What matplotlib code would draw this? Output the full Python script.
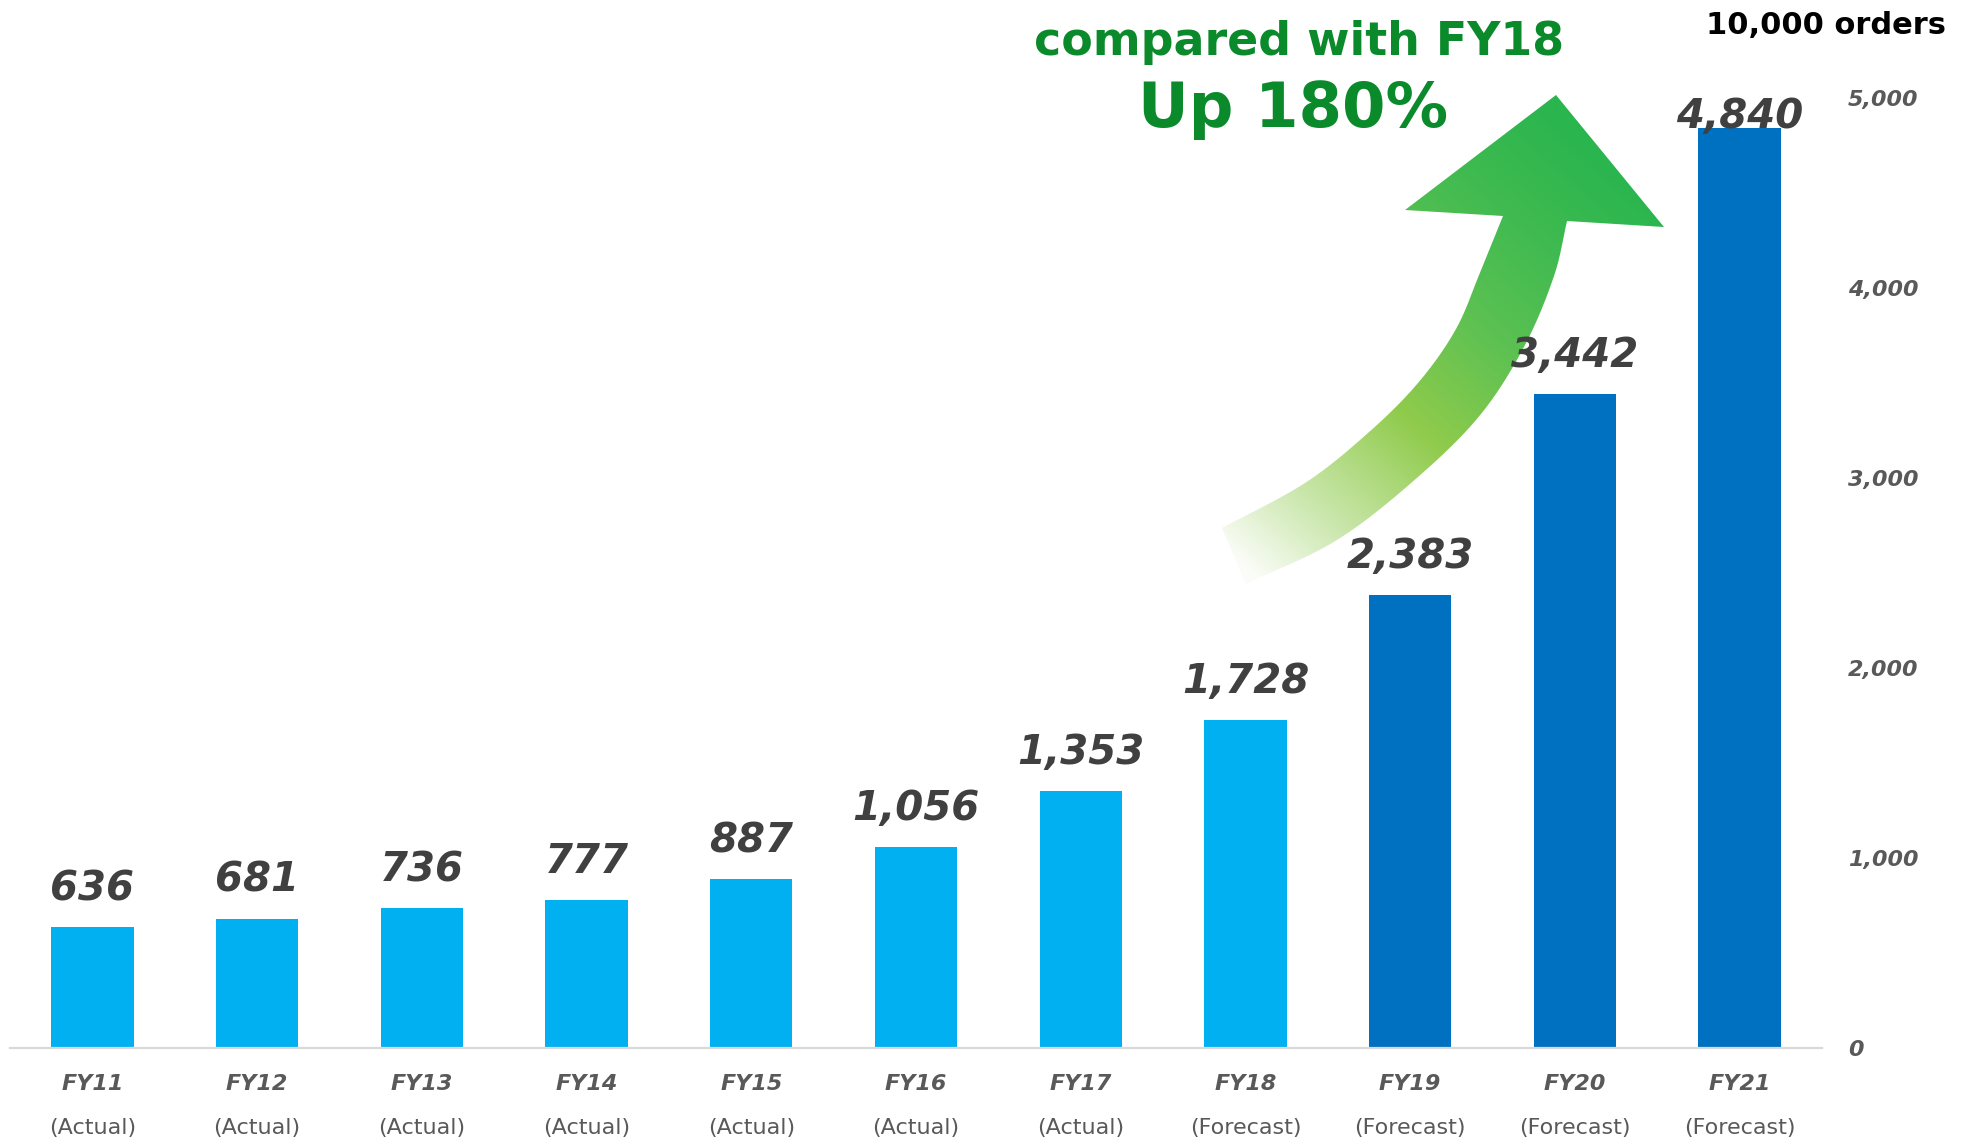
import numpy as np
import matplotlib
matplotlib.use("Agg")
import matplotlib.pyplot as plt
from matplotlib.path import Path
from matplotlib.patches import PathPatch
from matplotlib.colors import LinearSegmentedColormap

# ---------------- data ----------------
years = ["FY11", "FY12", "FY13", "FY14", "FY15", "FY16", "FY17", "FY18", "FY19", "FY20", "FY21"]
status = ["(Actual)"] * 7 + ["(Forecast)"] * 4
orders = [636, 681, 736, 777, 887, 1056, 1353, 1728, 2383, 3442, 4840]
dark_from = 8  # FY19 onwards drawn darker
y_ticks = [0, 1000, 2000, 3000, 4000, 5000]
unit_label = "10,000 orders"
headline1 = "compared with FY18"
headline2 = "Up 180%"

LIGHT = "#00B0F0"
DARK = "#0070C0"
LABEL_C = "#404040"
TICK_C = "#595959"
GREEN_TXT = "#0B8A2B"

W, H = 1968, 1144
fig = plt.figure(figsize=(W / 100, H / 100), dpi=100)
fig.patch.set_facecolor("white")

# ---------------- decorative arrow (figure pixel space) ----------------
bg = fig.add_axes([0, 0, 1, 1], zorder=0)
bg.set_xlim(0, W)
bg.set_ylim(H, 0)
bg.axis("off")


def catmull(pts, n=20):
    pts = np.asarray(pts, float)
    P = np.vstack([2 * pts[0] - pts[1], pts, 2 * pts[-1] - pts[-2]])
    out = []
    for i in range(1, len(P) - 2):
        p0, p1, p2, p3 = P[i - 1], P[i], P[i + 1], P[i + 2]
        for t in np.linspace(0, 1, n, endpoint=False):
            t2, t3 = t * t, t * t * t
            out.append(0.5 * ((2 * p1) + (-p0 + p2) * t + (2 * p0 - 5 * p1 + 4 * p2 - p3) * t2
                              + (-p0 + 3 * p1 - 3 * p2 + p3) * t3))
    out.append(pts[-1])
    return np.array(out)


left_edge = [(1503, 216), (1481, 270), (1456, 329), (1418, 383),
             (1368, 433), (1305, 483), (1222, 528)]
right_edge = [(1246, 584), (1337, 540), (1418, 477), (1481, 414),
              (1525, 345), (1554, 276), (1567, 221)]
head = [(1664, 227), (1556, 95), (1405, 210)]

outline = np.vstack([catmull(left_edge), catmull(right_edge), np.array(head), [left_edge[0]]])
path = Path(outline, closed=False)
patch = PathPatch(path, transform=bg.transData, facecolor="none", edgecolor="none")
bg.add_patch(patch)

gx0, gx1, gy0, gy1 = 1200, 1690, 80, 600
xs = np.linspace(gx0, gx1, 500)
ys = np.linspace(gy0, gy1, 520)
XX, YY = np.meshgrid(xs, ys)
d = np.array([365.0, -410.0])
tt = ((XX - 1235) * d[0] + (YY - 560) * d[1]) / (d @ d)
tt = np.clip(tt, 0, 1)
cmap = LinearSegmentedColormap.from_list(
    "arrow",
    [(0.0, "#FBFDF8"), (0.15, "#CFE9B4"), (0.40, "#90CB4C"), (0.62, "#5CC152"),
     (0.82, "#3EBA50"), (1.0, "#2AB54F")])
im = bg.imshow(cmap(tt), extent=(gx0, gx1, gy1, gy0), origin="upper",
               aspect="auto", interpolation="bilinear", zorder=1)
im.set_clip_path(patch)
bg.set_xlim(0, W)
bg.set_ylim(H, 0)

# ---------------- main bar chart ----------------
ax = fig.add_axes([10 / W, 96 / H, (1822 - 10) / W, 950 / H], zorder=1)
ax.patch.set_visible(False)
x = np.arange(len(years))
colors = [DARK if i >= dark_from else LIGHT for i in range(len(years))]
ax.bar(x, orders, width=0.5, color=colors, zorder=2)
ax.set_xlim(-0.5, len(years) - 0.5)
ax.set_ylim(0, 5000)

for s in ["top", "left", "right"]:
    ax.spines[s].set_visible(False)
ax.spines["bottom"].set_color("#D9D9D9")
ax.spines["bottom"].set_linewidth(1.6)

ax.yaxis.tick_right()
ax.set_yticks(y_ticks)
ax.set_yticklabels([f"{v:,}" for v in y_ticks])
ax.tick_params(axis="y", length=0, pad=18.5, labelsize=16, labelcolor=TICK_C)
for lab in ax.get_yticklabels():
    lab.set_fontweight("bold")
    lab.set_fontstyle("italic")
    lab.set_horizontalalignment("left")

ax.set_xticks(x)
ax.set_xticklabels([""] * len(x))
ax.tick_params(axis="x", length=0)

# value labels
ax_h_px = ax.get_position().height * H
px_per_unit = ax_h_px / (ax.get_ylim()[1] - ax.get_ylim()[0])
for i, v in enumerate(orders):
    off_px = min(27, (ax.get_ylim()[1] - v) * px_per_unit - 31)
    off_px = max(off_px, 0)
    ax.annotate(f"{v:,}", xy=(i, v), xytext=(0, off_px * 0.72), textcoords="offset points",
                ha="center", va="baseline", fontsize=29, fontweight="bold",
                fontstyle="italic", color=LABEL_C, zorder=3)

# category labels
for i in range(len(years)):
    ax.annotate(years[i], xy=(i, 0), xycoords=("data", "axes fraction"),
                xytext=(0, -36 * 0.72), textcoords="offset points",
                ha="center", va="center", fontsize=16, fontweight="bold",
                fontstyle="italic", color=TICK_C, annotation_clip=False)
    ax.annotate(status[i], xy=(i, 0), xycoords=("data", "axes fraction"),
                xytext=(0, -80 * 0.72), textcoords="offset points",
                ha="center", va="center", fontsize=16, color=TICK_C,
                annotation_clip=False)

# texts
fig.text(1946 / W, 1 - 25 / H, unit_label, ha="right", va="center",
         fontsize=22, fontweight="bold", color="black")
fig.text(1299 / W, 1 - 55 / H, headline1, ha="center", va="baseline",
         fontsize=33, fontweight="bold", color=GREEN_TXT)
fig.text(1293 / W, 1 - 127 / H, headline2, ha="center", va="baseline",
         fontsize=45, fontweight="bold", color=GREEN_TXT)

fig.savefig("out.png", dpi=100, facecolor="white")
